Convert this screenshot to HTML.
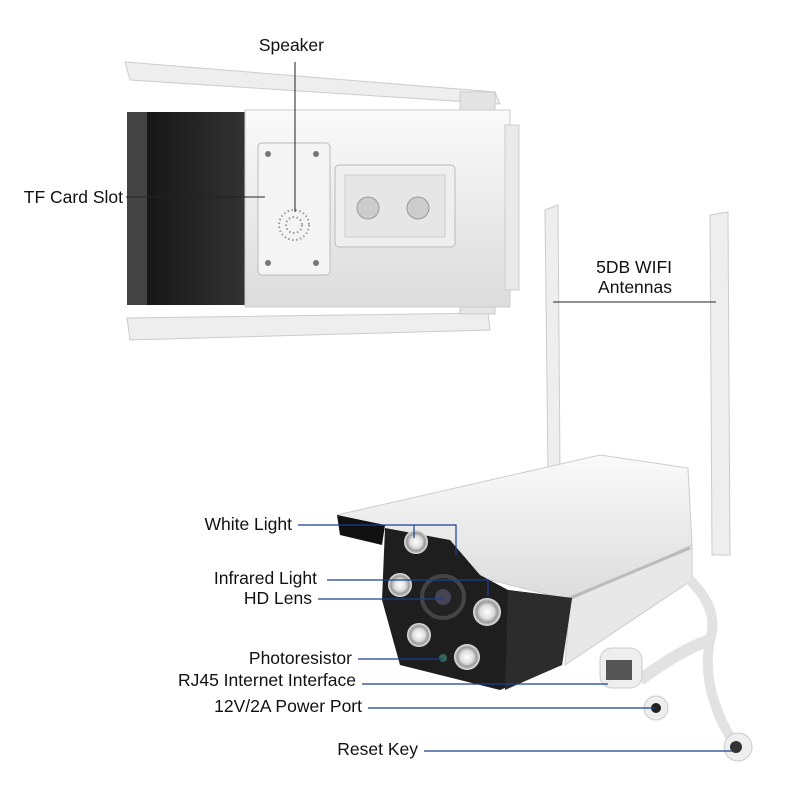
<!DOCTYPE html>
<html><head><meta charset="utf-8"><style>
body{margin:0;background:#fff}
svg{display:block}
text{font-family:"Liberation Sans",sans-serif;font-size:17.5px;fill:#111}
</style></head><body>
<svg width="800" height="800" viewBox="0 0 800 800" xmlns="http://www.w3.org/2000/svg">
<defs>
<linearGradient id="wg" x1="0" y1="0" x2="0" y2="1"><stop offset="0" stop-color="#fafafa"/><stop offset="1" stop-color="#dcdcdc"/></linearGradient>
<linearGradient id="bg" x1="0" y1="0" x2="1" y2="0"><stop offset="0" stop-color="#111"/><stop offset="1" stop-color="#333"/></linearGradient>
<radialGradient id="led"><stop offset="0" stop-color="#fff"/><stop offset="0.5" stop-color="#ddd"/><stop offset="0.75" stop-color="#999"/><stop offset="1" stop-color="#e8e8e8"/></radialGradient>
</defs>
<polygon points="125,62 495,92 500,104 130,80" fill="#eee" stroke="#ccc"/>
<polygon points="127,318 488,313 490,330 130,340" fill="#eee" stroke="#ccc"/>
<rect x="460" y="92" width="35" height="22" fill="#e4e4e4" stroke="#ccc"/>
<rect x="460" y="296" width="35" height="18" fill="#e4e4e4" stroke="#ccc"/>
<rect x="127" y="112" width="120" height="193" fill="url(#bg)"/>
<rect x="127" y="112" width="20" height="193" fill="#444"/>
<rect x="245" y="110" width="265" height="197" fill="url(#wg)" stroke="#ccc"/>
<rect x="505" y="125" width="14" height="165" fill="#eaeaea" stroke="#ccc"/>
<rect x="258" y="143" width="72" height="132" rx="4" fill="#f4f4f4" stroke="#bbb"/>
<circle cx="268" cy="154" r="3" fill="#777"/><circle cx="316" cy="154" r="3" fill="#777"/>
<circle cx="268" cy="263" r="3" fill="#777"/><circle cx="316" cy="263" r="3" fill="#777"/>
<circle cx="294" cy="225" r="15" fill="none" stroke="#999" stroke-dasharray="1.5 2.5" stroke-width="2"/>
<circle cx="294" cy="225" r="8" fill="none" stroke="#999" stroke-dasharray="1.5 2.5" stroke-width="2"/>
<rect x="335" y="165" width="120" height="82" rx="4" fill="#efefef" stroke="#bbb"/>
<rect x="345" y="175" width="100" height="62" fill="#e6e6e6" stroke="#ccc"/>
<circle cx="368" cy="208" r="11" fill="#ccc" stroke="#999"/><circle cx="418" cy="208" r="11" fill="#ccc" stroke="#999"/>
<polygon points="545,210 558,205 560,470 548,472" fill="#eee" stroke="#ccc"/>
<polygon points="710,215 728,212 730,555 712,555" fill="#eee" stroke="#ccc"/>
<polygon points="337,515 600,455 688,468 692,545 570,600 470,575 440,540 385,530" fill="url(#wg)" stroke="#ccc"/>
<polygon points="570,600 692,545 692,580 565,665" fill="#e8e8e8" stroke="#ccc"/>
<line x1="570" y1="598" x2="690" y2="548" stroke="#bbb" stroke-width="3"/>
<polygon points="337,515 385,525 382,545 340,535" fill="#111"/>
<polygon points="385,528 450,540 480,575 508,590 572,598 562,665 500,690 400,665 382,600" fill="#1e1e1e"/>
<polygon points="508,590 572,598 562,665 505,690" fill="#2c2c2c"/>
<circle cx="443" cy="597" r="21" fill="#222" stroke="#444" stroke-width="4"/>
<circle cx="443" cy="597" r="8" fill="#445"/>
<circle cx="416" cy="542" r="12" fill="url(#led)"/>
<circle cx="400" cy="585" r="12" fill="url(#led)"/>
<circle cx="487" cy="612" r="14" fill="url(#led)"/>
<circle cx="419" cy="635" r="12" fill="url(#led)"/>
<circle cx="467" cy="657" r="13" fill="url(#led)"/>
<circle cx="443" cy="658" r="4" fill="#365"/>
<path d="M690,580 Q720,610 710,640 Q700,690 735,745" fill="none" stroke="#e2e2e2" stroke-width="10"/>
<path d="M640,680 Q680,650 710,640" fill="none" stroke="#e2e2e2" stroke-width="12"/>
<rect x="600" y="648" width="42" height="40" rx="12" fill="#eee" stroke="#ccc"/>
<rect x="606" y="660" width="26" height="20" fill="#555"/>
<circle cx="656" cy="708" r="12" fill="#eee" stroke="#ccc"/><circle cx="656" cy="708" r="5" fill="#222"/>
<circle cx="738" cy="747" r="14" fill="#eee" stroke="#ccc"/><circle cx="736" cy="747" r="6" fill="#333"/>
<g stroke="#1a3f8f" stroke-width="1.2" fill="none">
<polyline points="298,525 456,525 456,555"/>
<line x1="414" y1="525" x2="414" y2="538"/>
<polyline points="327,580 488,580 488,596"/>
<line x1="318" y1="599" x2="443" y2="599"/>
<line x1="358" y1="659" x2="443" y2="659"/>
<line x1="362" y1="684" x2="608" y2="684"/>
<line x1="368" y1="708" x2="655" y2="708"/>
<line x1="424" y1="751" x2="732" y2="751"/>
</g>
<g stroke="#222" stroke-width="1" fill="none">
<line x1="295" y1="62" x2="295" y2="212"/>
<line x1="126" y1="197" x2="265" y2="197"/>
<line x1="553" y1="302" x2="716" y2="302"/>
</g>
<text x="324" y="51" text-anchor="end">Speaker</text>
<text x="123" y="203" text-anchor="end">TF Card Slot</text>
<text x="672" y="273" text-anchor="end">5DB WIFI</text>
<text x="672" y="293" text-anchor="end">Antennas</text>
<text x="292" y="530" text-anchor="end">White Light</text>
<text x="317" y="584" text-anchor="end">Infrared Light</text>
<text x="312" y="604" text-anchor="end">HD Lens</text>
<text x="352" y="664" text-anchor="end">Photoresistor</text>
<text x="356" y="686" text-anchor="end">RJ45 Internet Interface</text>
<text x="362" y="712" text-anchor="end">12V/2A Power Port</text>
<text x="418" y="755" text-anchor="end">Reset Key</text>
</svg>
</body></html>
